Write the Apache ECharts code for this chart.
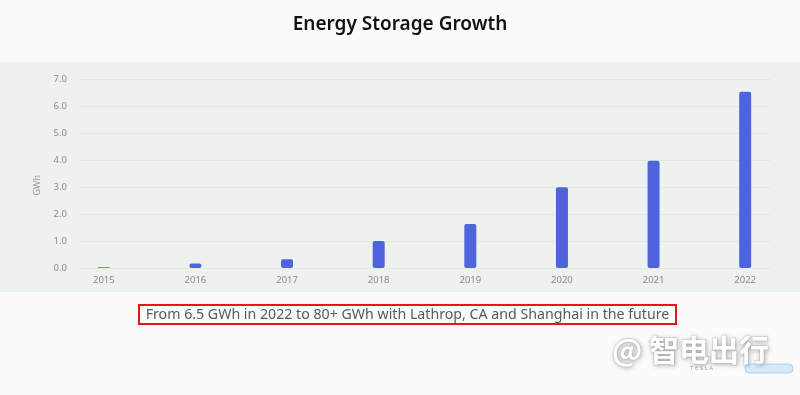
<!DOCTYPE html>
<html><head><meta charset="utf-8">
<script src="https://cdn.jsdelivr.net/npm/echarts@6/dist/echarts.min.js"></script>
<style>html,body{margin:0;padding:0;background:#fafbfa;}#c{width:800px;height:395px;}</style>
</head><body><div id="c"></div>
<script>
const categories = ['2015','2016','2017','2018','2019','2020','2021','2022'];
const storageGWh = [0.03, 0.17, 0.32, 1.0, 1.63, 2.99, 3.97, 6.53];
const yTicks = ['0.0','1.0','2.0','3.0','4.0','5.0','6.0','7.0'];
const titleText = 'Energy Storage Growth';
const subtitleText = 'From 6.5 GWh in 2022 to 80+ GWh with Lathrop, CA and Shanghai in the future';
const yName = 'GWh';

const chart = echarts.init(document.getElementById('c'), null, {renderer:'canvas'});
const font = '"Noto Sans", sans-serif';
chart.setOption({
  backgroundColor: '#fafbfa',
  animation: false,
  title: {text: titleText, left: 'center', top: 10, textStyle: {fontFamily: font, fontSize: 19, fontWeight: 600, color: '#111'}},
  graphic: [
    {type:'rect', z:-10, shape:{x:0,y:62,width:800,height:230}, style:{fill:'#eef2ef'}},
    {type:'text', left:33, top:175, rotation:Math.PI/2, style:{text:yName, fill:'#999', font:'9px '+font}},
    {type:'rect', shape:{x:139,y:305,width:537,height:19}, style:{fill:'none', stroke:'#e8141c', lineWidth:2}},
    {type:'text', x:407.5, y:315, style:{text:subtitleText, fill:'#5a5a5a', font:'14.2px '+font, align:'center', verticalAlign:'middle'}},
    {type:'text', x:612, y:350, style:{text:'@ 智电出行', fill:'#ffffff', font:'bold 30px "Noto Sans CJK SC"', verticalAlign:'middle', stroke:'rgba(0,0,0,0.08)', lineWidth:2, textShadowColor:'rgba(0,0,0,0.35)', textShadowBlur:5, textShadowOffsetX:1, textShadowOffsetY:1}},
    {type:'text', x:690, y:368, style:{text:'T E S L A', fill:'#9aa0a0', font:'6px '+font, verticalAlign:'middle'}},
    {type:'rect', shape:{x:745,y:364,width:48,height:9,r:4}, style:{fill:'rgba(150,200,240,0.35)', stroke:'rgba(120,180,230,0.5)', lineWidth:1}}
  ],
  grid: [
    {left:80, right:30, top:79, bottom:127},
    {left:58, right:9, top:79, bottom:127}
  ],
  xAxis: [
    {gridIndex:0, type:'category', data:categories, show:false},
    {gridIndex:1, type:'category', data:categories,
     axisLine:{show:false}, axisTick:{show:false},
     axisLabel:{color:'#8a8a8a', fontSize:9.5, fontFamily:font, margin:7}}
  ],
  yAxis: [
    {gridIndex:0, type:'value', min:0, max:7, interval:1,
     axisLine:{show:false}, axisTick:{show:false},
     axisLabel:{color:'#8a8a8a', fontSize:9.5, fontFamily:font, margin:13, formatter:(v)=>yTicks[Math.round(v)]},
     splitLine:{lineStyle:{color:'#e2e7e4', width:1}}},
    {gridIndex:1, type:'value', min:0, max:7, interval:1, show:false, splitLine:{show:false}}
  ],
  series: [
    {type:'bar', xAxisIndex:1, yAxisIndex:1, data:storageGWh, barWidth:12,
     itemStyle:{color:'#4f63dc', borderRadius:2}}
  ]
});
</script></body></html>
